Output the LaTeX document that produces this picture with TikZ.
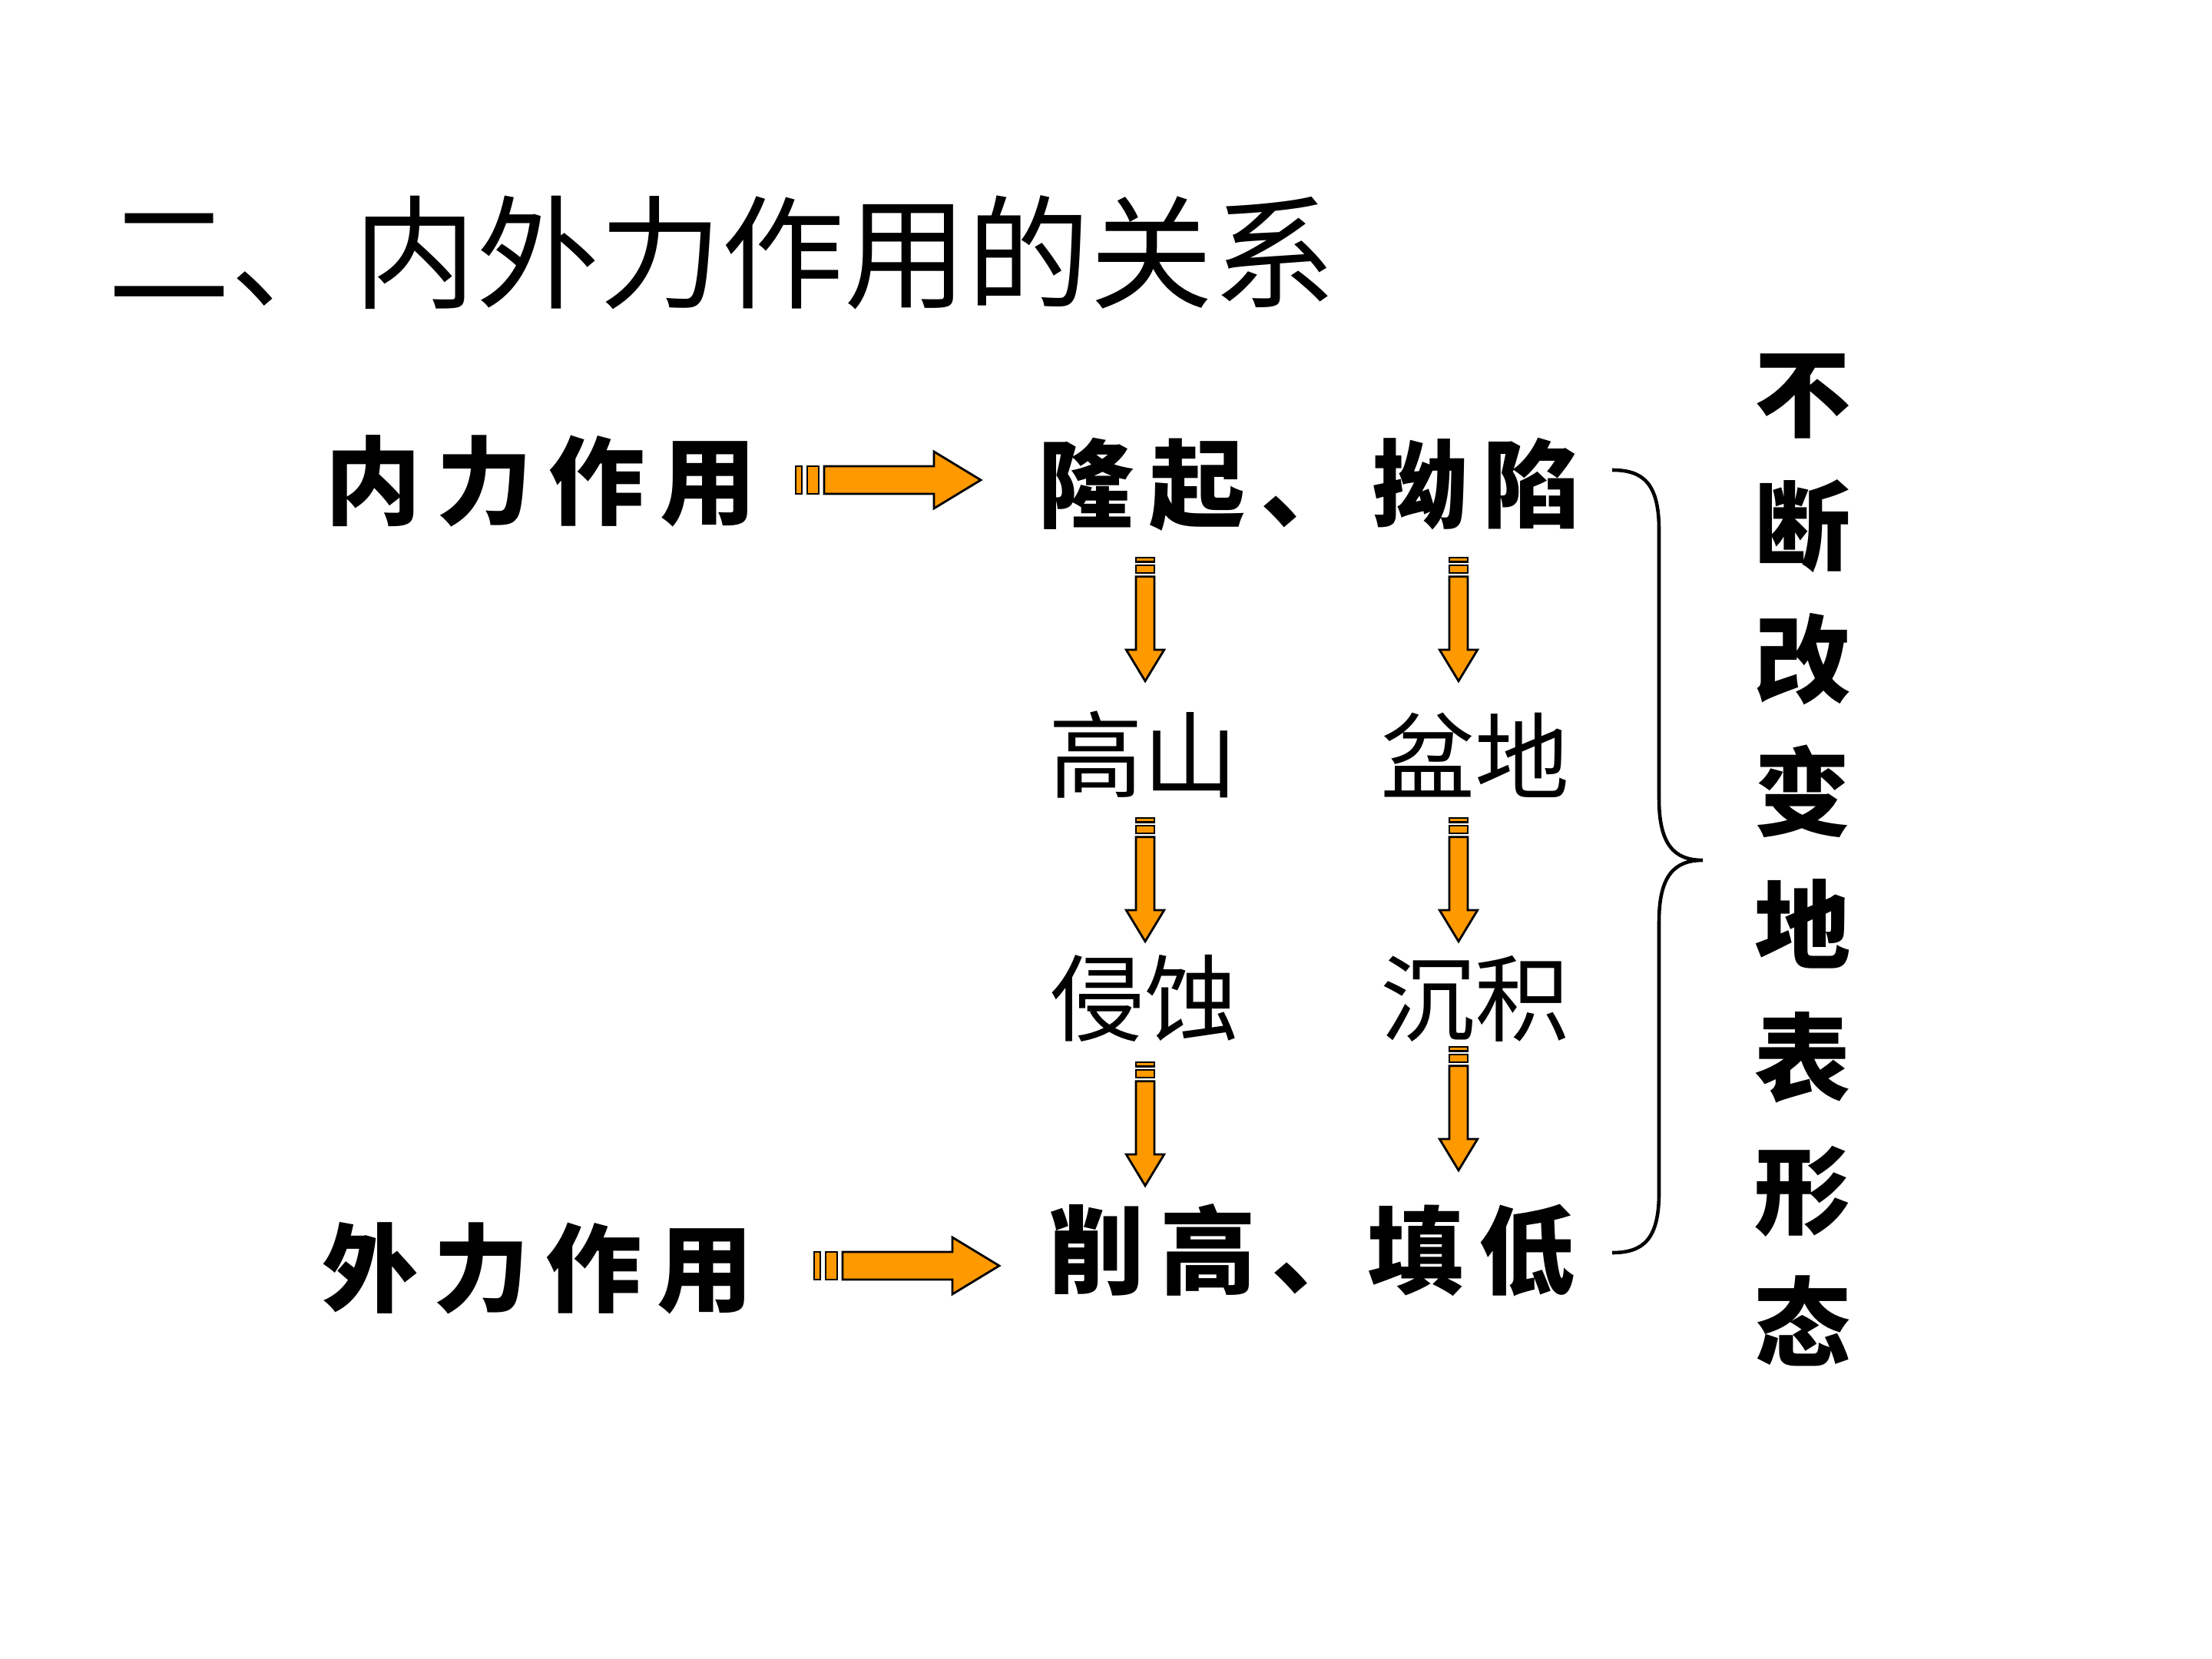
\documentclass[tikz,border=0pt]{standalone}
\usepackage{fontspec}
\newfontfamily\cjk{Noto Sans CJK SC}
\definecolor{arroworange}{RGB}{255,153,0}
\newcommand\gap{\hspace{.16em}}
\tikzset{
	arrowpart/.style={draw=black,fill=arroworange,line width=.8pt,line join=miter},
	titletext/.style={inner sep=0pt,font={\cjk\fontsize{45.5pt}{50pt}\selectfont}},
	boldtext/.style={inner sep=0pt,font={\cjk\bfseries\fontsize{35.6pt}{40pt}\selectfont}},
	plaintext/.style={inner sep=0pt,font={\cjk\fontsize{35pt}{40pt}\selectfont}},
	columntext/.style={inner sep=0pt,align=center,font={\cjk\bfseries\fontsize{35.6pt}{49.2pt}\selectfont}},
	brace/.style={line width=1.3pt},
	blockarrow/.pic={
		\draw[arrowpart] (0,-.18) rectangle (.08,.18);
		\draw[arrowpart] (.15,-.18) rectangle (.30,.18);
		\draw[arrowpart] (.37,-.18) -- (1.80,-.18) -- (1.80,-.37) -- (2.41,0) -- (1.80,.37) -- (1.80,.18) -- (.37,.18) -- cycle;
	}
}
\begin{document}
\begin{tikzpicture}
	\useasboundingbox (0,0) rectangle (28.8,-21.6);
	% heading
	\node[titletext] (title) at (9.40,-3.29) {二、内外力作用的关系};
	% left column
	\node[boldtext] (inner) at (7.04,-6.26) {内\gap 力\gap 作\gap 用};
	\node[boldtext] (outer) at (7.00,-16.51) {外\gap 力\gap 作\gap 用};
	% middle columns
	\node[boldtext] (rise) at (17.04,-6.31) {隆\gap 起\gap 、\gap 拗\gap 陷};
	\node[plaintext] (mount) at (14.88,-9.83) {高山};
	\node[plaintext] (basin) at (19.20,-9.83) {盆地};
	\node[plaintext] (erode) at (14.90,-13.00) {侵蚀};
	\node[plaintext] (depos) at (19.20,-13.00) {沉积};
	\node[boldtext] (level) at (17.08,-16.28) {削\gap 高\gap 、填\gap 低};
	% right column
	\node[columntext] (change) at (23.47,-11.20) {不\\断\\改\\变\\地\\表\\形\\态};
	% arrows
	\coordinate (a1) at (10.36,-6.25);
	\coordinate (a2) at (10.60,-16.48);
	\pic at (a1) {blockarrow};
	\pic at (a2) {blockarrow};
	\coordinate (d1) at (14.91,-7.26);
	\coordinate (d2) at (18.99,-7.26);
	\coordinate (d3) at (14.91,-10.65);
	\coordinate (d4) at (18.99,-10.65);
	\coordinate (d5) at (14.91,-13.83);
	\coordinate (d6) at (18.99,-13.63);
	\pic[rotate=-90,scale=.667] at (d1) {blockarrow};
	\pic[rotate=-90,scale=.667] at (d2) {blockarrow};
	\pic[rotate=-90,scale=.667] at (d3) {blockarrow};
	\pic[rotate=-90,scale=.667] at (d4) {blockarrow};
	\pic[rotate=-90,scale=.667] at (d5) {blockarrow};
	\pic[rotate=-90,scale=.667] at (d6) {blockarrow};
	% brace
	\coordinate (bt) at (20.99,-6.12);
	\coordinate (bm) at (22.17,-11.20);
	\coordinate (bb) at (20.99,-16.31);
	\draw[brace] (bt) .. controls (21.40,-6.12) and (21.60,-6.30) .. (21.60,-6.90) -- (21.60,-10.40) .. controls (21.60,-11.00) and (21.80,-11.20) .. (bm) .. controls (21.80,-11.20) and (21.60,-11.40) .. (21.60,-12.00) -- (21.60,-15.53) .. controls (21.60,-16.13) and (21.40,-16.31) .. (bb);
\end{tikzpicture}
\end{document}
